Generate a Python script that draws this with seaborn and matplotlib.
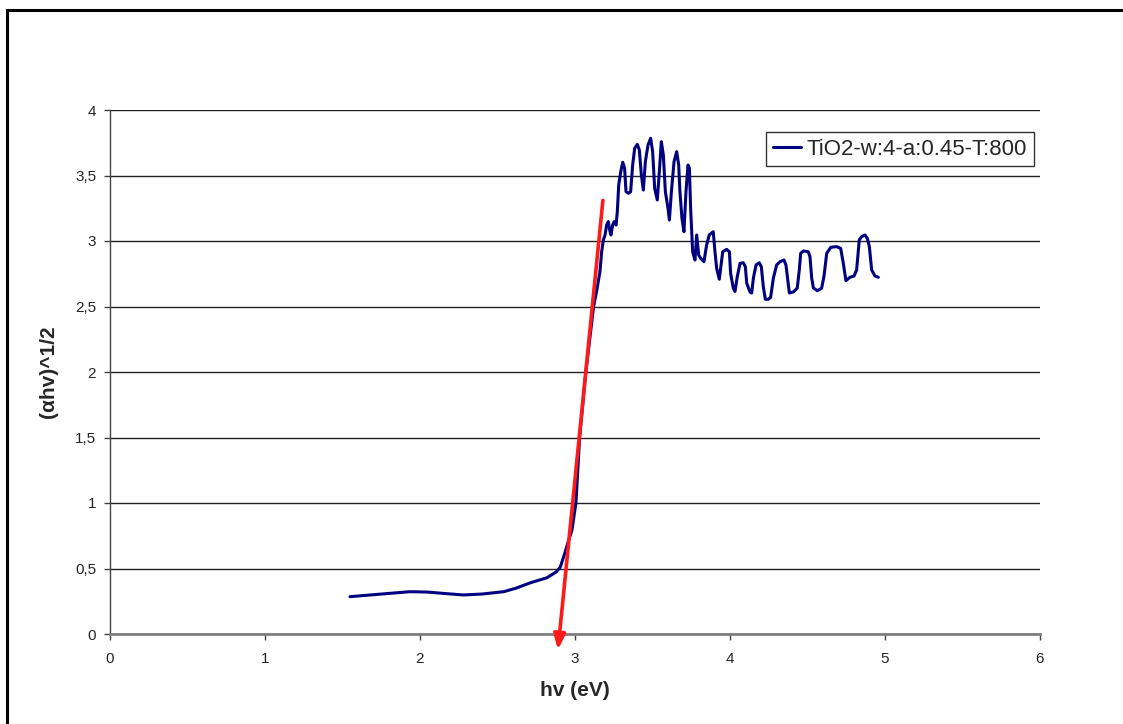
import matplotlib
matplotlib.use("Agg")
import matplotlib.pyplot as plt
from matplotlib.patches import Rectangle
from matplotlib.ticker import FuncFormatter
import seaborn as sns
import pandas as pd

# Photon energy (eV) and Tauc ordinate (alpha*h*nu)^1/2 for the TiO2 film
hv = [1.548, 1.60, 1.70, 1.80, 1.935, 2.05, 2.15, 2.28, 2.40, 2.54,
      2.62, 2.71, 2.82, 2.88, 2.905, 2.935, 2.96, 2.98, 3.006, 3.03,
      3.07, 3.10, 3.12, 3.14,
      3.161, 3.172, 3.183, 3.194, 3.204, 3.215, 3.226, 3.232, 3.243, 3.252,
      3.265, 3.273, 3.282, 3.295, 3.308, 3.320, 3.329, 3.344, 3.359, 3.372,
      3.385, 3.402, 3.415, 3.428, 3.441, 3.454, 3.471, 3.488, 3.501, 3.514,
      3.531, 3.544, 3.557, 3.570, 3.583, 3.600, 3.609, 3.622, 3.639, 3.656,
      3.669, 3.677, 3.690, 3.703, 3.716, 3.729, 3.738, 3.746, 3.759, 3.774,
      3.785, 3.798, 3.811, 3.832, 3.849, 3.866, 3.892, 3.903, 3.914,
      3.931, 3.953, 3.978, 3.996, 4.004, 4.021, 4.032, 4.047, 4.065, 4.086,
      4.099, 4.108, 4.129, 4.140, 4.151, 4.168, 4.189, 4.202, 4.215, 4.228,
      4.247, 4.262, 4.280, 4.301, 4.323, 4.348, 4.361, 4.370, 4.383, 4.409,
      4.434, 4.447, 4.456, 4.473, 4.505, 4.516, 4.527, 4.538, 4.563, 4.591,
      4.606, 4.624, 4.650, 4.688, 4.714, 4.731, 4.748, 4.774, 4.800, 4.817,
      4.834, 4.849, 4.871, 4.886, 4.899, 4.914, 4.935, 4.957]
tauc = [0.285, 0.29, 0.30, 0.31, 0.323, 0.32, 0.31, 0.298, 0.305, 0.323,
        0.35, 0.39, 0.43, 0.475, 0.51, 0.62, 0.72, 0.79, 1.00, 1.50,
        2.00, 2.30, 2.50, 2.62,
        2.766, 2.918, 3.008, 3.046, 3.122, 3.148, 3.071, 3.046, 3.122, 3.148,
        3.122, 3.224, 3.427, 3.529, 3.601, 3.555, 3.377, 3.364, 3.377, 3.580,
        3.707, 3.738, 3.695, 3.504, 3.389, 3.606, 3.733, 3.784, 3.682, 3.402,
        3.313, 3.529, 3.758, 3.656, 3.377, 3.249, 3.160, 3.377, 3.606, 3.682,
        3.580, 3.377, 3.173, 3.071, 3.377, 3.580, 3.555, 3.249, 2.918, 2.855,
        3.046, 2.893, 2.868, 2.842, 2.969, 3.046, 3.071, 2.918, 2.791,
        2.708, 2.918, 2.936, 2.918, 2.753, 2.641, 2.615, 2.728, 2.830, 2.834,
        2.804, 2.677, 2.611, 2.603, 2.718, 2.817, 2.834, 2.804, 2.651, 2.555,
        2.555, 2.570, 2.718, 2.817, 2.842, 2.855, 2.817, 2.728, 2.603, 2.611,
        2.641, 2.779, 2.906, 2.924, 2.918, 2.880, 2.718, 2.641, 2.621, 2.639,
        2.728, 2.906, 2.952, 2.957, 2.944, 2.830, 2.697, 2.723, 2.733, 2.779,
        3.008, 3.033, 3.046, 3.020, 2.957, 2.779, 2.733, 2.723]
series_name = "TiO2-w:4-a:0.45-T:800"

# Tangent to the absorption edge, extrapolated to the energy axis
tangent_start = (3.18, 3.31)
tangent_end = (2.89, -0.12)

x_ticks = [0, 1, 2, 3, 4, 5, 6]
y_ticks = [0, 0.5, 1, 1.5, 2, 2.5, 3, 3.5, 4]

df = pd.DataFrame({"hv": hv, "tauc": tauc, "sample": series_name})

sns.set_style("white")
plt.rcParams["font.family"] = ["Liberation Sans", "DejaVu Sans"]

fig = plt.figure(figsize=(11.23, 7.24), dpi=100)
ax = fig.add_axes([110 / 1123, 1 - 634 / 724, 930 / 1123, 524 / 724])

sns.lineplot(data=df, x="hv", y="tauc", hue="sample", palette=["#000080"],
             linewidth=2.2, ax=ax, estimator=None, sort=False)

ax.set_xlim(0, 6)
ax.set_ylim(0, 4)
ax.set_xticks(x_ticks)
ax.set_yticks(y_ticks)
ax.yaxis.set_major_formatter(FuncFormatter(
    lambda v, _: (f"{v:g}").replace(".", ",")))
ax.grid(axis="y", color="#222222", linewidth=1.0)
ax.grid(axis="x", visible=False)
ax.set_axisbelow(True)

for side in ("top", "right"):
    ax.spines[side].set_visible(False)
ax.spines["left"].set_color("#444444")
ax.spines["left"].set_linewidth(1.0)
ax.spines["bottom"].set_color("#808080")
ax.spines["bottom"].set_linewidth(2.0)

ax.tick_params(axis="y", direction="out", length=4, width=1, color="#444444",
               labelsize=11, pad=6, left=True)
ax.tick_params(axis="x", direction="out", length=4, width=1, color="#444444",
               labelsize=11, pad=9, bottom=True)

ax.set_xlabel("hv (eV)", fontsize=15, fontweight="bold", labelpad=11)
ax.set_ylabel("(αhv)^1/2", fontsize=15, fontweight="bold", labelpad=12)

ax.annotate("", xy=tangent_end, xytext=tangent_start,
            annotation_clip=False,
            arrowprops=dict(arrowstyle="-|>,head_length=0.9,head_width=0.35",
                            color="#ff1a1a", lw=2.6, shrinkA=0, shrinkB=0))

leg = ax.legend(loc="upper right",
                bbox_to_anchor=((1034 - 110) / 930, (634 - 132) / 524),
                frameon=True, fancybox=False, fontsize=16,
                handlelength=1.3, borderpad=0.3, handletextpad=0.25,
                borderaxespad=0)
leg.get_frame().set_edgecolor("black")
leg.get_frame().set_linewidth(1.0)
leg.set_title(None)

# Outer chart frame
fig.add_artist(Rectangle((7 / 1123, -0.2), 2.0, 1.2 - 10 / 724,
                         transform=fig.transFigure, fill=False,
                         edgecolor="black", linewidth=2.2))

fig.savefig("out.png", dpi=100)
